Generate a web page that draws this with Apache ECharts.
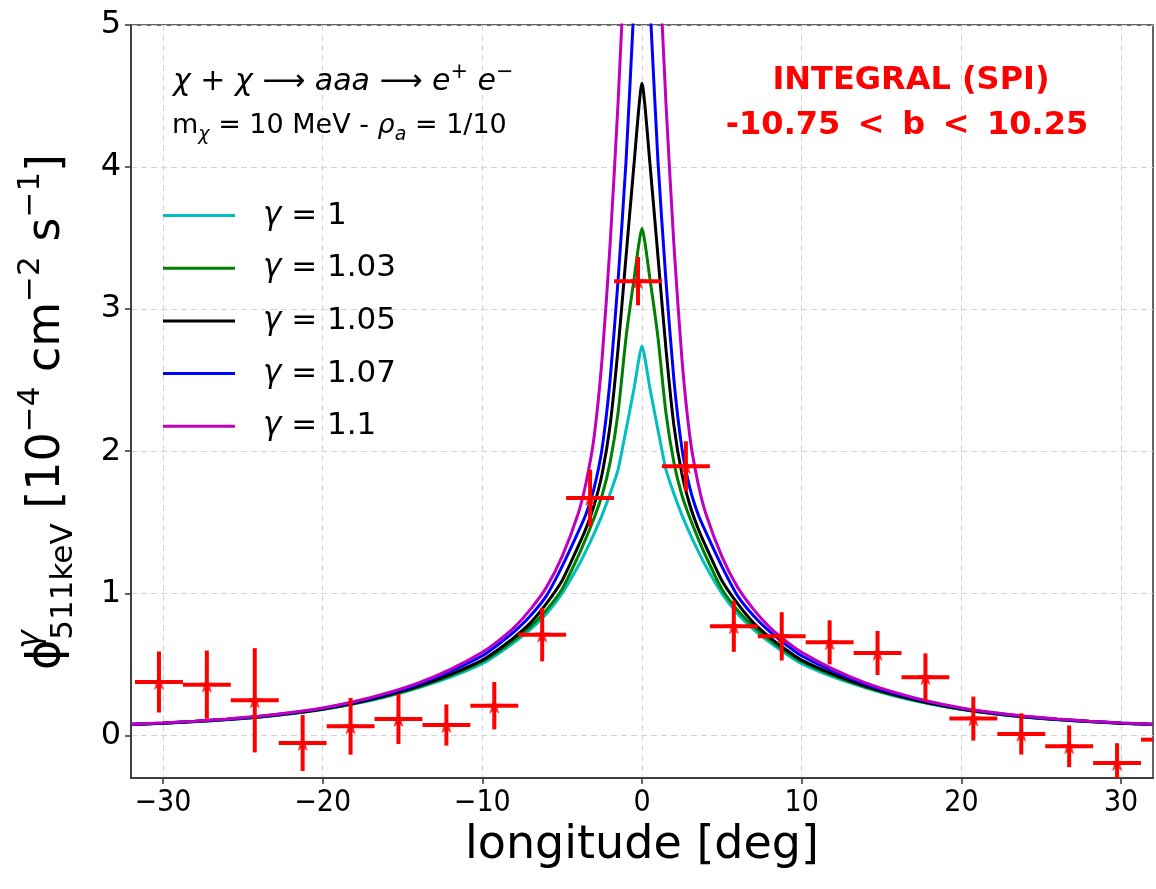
<!DOCTYPE html>
<html><head><meta charset="utf-8">
<script src="https://cdn.jsdelivr.net/npm/echarts@6/dist/echarts.min.js"></script>
<style>html,body{margin:0;padding:0;background:#fff}#c{width:1156px;height:889px}</style>
</head><body><div id="c"></div>
<script>
// ---- data ----
const curveLon = [0,0.5,1,1.5,2,2.5,3,3.5,4,5,6,7,8,9,10,12,14,16,18,20,22,24,26,28,30,32];
const fluxG100 = [2.74,2.44,2.15,1.87,1.70,1.55,1.42,1.30,1.19,1.00,0.855,0.745,0.655,0.575,0.505,0.41,0.335,0.272,0.222,0.182,0.152,0.128,0.110,0.096,0.085,0.076];
const fluxG103 = [3.57,3.21,2.80,2.27,1.92,1.69,1.53,1.39,1.26,1.03,0.88,0.765,0.672,0.59,0.52,0.42,0.34,0.276,0.225,0.184,0.153,0.129,0.111,0.097,0.086,0.076];
const fluxG105 = [4.59,4.02,3.37,2.72,2.18,1.84,1.62,1.46,1.33,1.09,0.925,0.79,0.69,0.605,0.53,0.43,0.347,0.281,0.228,0.186,0.155,0.130,0.112,0.098,0.086,0.077];
const fluxG107 = [6.30,5.15,4.04,3.20,2.50,2.02,1.74,1.56,1.43,1.19,0.98,0.84,0.73,0.64,0.56,0.45,0.36,0.29,0.234,0.19,0.158,0.133,0.114,0.099,0.087,0.078];
const fluxG110 = [8.50,6.90,5.65,4.45,3.45,2.65,2.10,1.78,1.56,1.26,1.04,0.885,0.76,0.665,0.585,0.465,0.37,0.297,0.238,0.193,0.161,0.135,0.116,0.100,0.088,0.079];
const curveNames = ['γ = 1','γ = 1.03','γ = 1.05','γ = 1.07','γ = 1.1'];
const curveColors = ['#00bfbf','#008000','#000000','#0000ff','#bf00bf'];

const dataLon = [-30.25,-27.25,-24.25,-21.25,-18.25,-15.25,-12.25,-9.25,-6.25,-3.25,-0.25,2.75,5.75,8.75,11.75,14.75,17.75,20.75,23.75,26.75,29.75,32.75];
const dataFlux = [0.376,0.357,0.247,-0.054,0.064,0.115,0.073,0.209,0.709,1.67,3.197,1.894,0.768,0.697,0.655,0.58,0.41,0.118,0.01,-0.077,-0.195,-0.03];
const dataLonErr = [1.5,1.5,1.5,1.5,1.5,1.5,1.5,1.5,1.5,1.5,1.5,1.5,1.5,1.5,1.5,1.5,1.5,1.5,1.5,1.5,1.5,1.5];
const dataFluxErr = [0.215,0.24,0.367,0.197,0.2,0.176,0.145,0.167,0.188,0.2,0.17,0.176,0.18,0.17,0.155,0.155,0.167,0.155,0.145,0.147,0.14,0.15];

const xTicks = [-30,-20,-10,0,10,20,30];
const yTicks = [0,1,2,3,4,5];

// ---- build ----
function sym(profile){
  const pts = [];
  for (let i = curveLon.length - 1; i >= 0; i--) pts.push([-curveLon[i], profile[i]]);
  for (let i = 0; i < curveLon.length; i++) pts.push([curveLon[i], profile[i]]);
  return pts;
}
const profiles = [fluxG100, fluxG103, fluxG105, fluxG107, fluxG110];
const FONT = 'DejaVu Sans';
const chart = echarts.init(document.getElementById('c'), null, {renderer:'canvas'});

const lineSeries = profiles.map((p, i) => ({
  name: curveNames[i], type: 'line', data: sym(p), showSymbol: false,
  smooth: 0.2, color: curveColors[i],
  lineStyle: {width: 3, color: curveColors[i]}, z: 3 + i, silent: true
}));

const star = 'path://M0,-10 L2.35,-3.24 L9.51,-3.09 L3.8,1.24 L5.88,8.09 L0,4 L-5.88,8.09 L-3.8,1.24 L-9.51,-3.09 L-2.35,-3.24 Z';

const errSeries = {
  type: 'custom', z: 20, silent: true,
  data: dataLon.map((x, i) => [x, dataFlux[i], dataLonErr[i], dataFluxErr[i]]),
  encode: {x: 0, y: 1},
  renderItem: function(params, api){
    const x = api.value(0), y = api.value(1), xe = api.value(2), ye = api.value(3);
    const cs = params.coordSys;
    const x0 = cs.x, x1 = cs.x + cs.width, y0 = cs.y, y1 = cs.y + cs.height;
    const pL = api.coord([x - xe, y]), pR = api.coord([x + xe, y]);
    const pT = api.coord([x, y + ye]), pB = api.coord([x, y - ye]);
    const st = {stroke: '#ff0000', lineWidth: 4};
    const ch = [];
    if (pR[0] > x0 && pL[0] < x1 && pL[1] >= y0 && pL[1] <= y1) {
      ch.push({type:'line', shape:{x1: Math.max(x0, pL[0]), y1: pL[1], x2: Math.min(x1, pR[0]), y2: pR[1]}, style: st});
    }
    if (pT[0] >= x0 && pT[0] <= x1) {
      ch.push({type:'line', shape:{x1: pT[0], y1: Math.max(y0, pT[1]), x2: pB[0], y2: Math.min(y1, pB[1])}, style: st});
    }
    return {type:'group', children: ch};
  }
};

const starSeries = {
  type: 'scatter', z: 21, silent: true, symbol: star, symbolSize: 16,
  itemStyle: {color: '#ff0000'},
  data: dataLon.map((x, i) => [x, dataFlux[i]])
};

const axisCol = '#333';
const option = {
  animation: false,
  backgroundColor: '#fff',
  grid: {left: 131, right: 3, top: 25, bottom: 111, show: true, borderColor: axisCol, borderWidth: 1.5, backgroundColor: 'transparent'},
  xAxis: {
    type: 'value', min: -32, max: 32,
    name: 'longitude [deg]', nameLocation: 'middle', nameGap: 35,
    nameTextStyle: {fontFamily: FONT, fontSize: 46, color: '#000'},
    axisLine: {show: true, onZero: false, lineStyle: {color: axisCol, width: 1.5}},
    axisTick: {show: true, inside: false, length: 6, lineStyle: {color: axisCol, width: 1.5}, customValues: xTicks},
    axisLabel: {fontFamily: "'DejaVu Sans Condensed', 'Liberation Sans Narrow', 'DejaVu Sans'", fontSize: 30, color: '#000', margin: 10,
      customValues: xTicks, formatter: v => (v < 0 ? '\u2212' + Math.abs(v) : String(v))},
    splitLine: {show: true, lineStyle: {color: '#d3d3d3', width: 1, type: [6, 4]}}
  },
  yAxis: {
    type: 'value', min: -0.3, max: 5,
    axisLine: {show: true, onZero: false, lineStyle: {color: axisCol, width: 1.5}},
    axisTick: {show: true, inside: false, length: 6, lineStyle: {color: axisCol, width: 1.5}, customValues: yTicks},
    axisLabel: {fontFamily: FONT, fontSize: 32, color: '#000', margin: 10, customValues: yTicks},
    splitLine: {show: true, lineStyle: {color: '#d3d3d3', width: 1, type: [6, 4]}}
  },
  legend: {
    orient: 'vertical', left: 163, top: 200, padding: 0,
    itemWidth: 72, itemHeight: 3, itemGap: 21.7, icon: 'rect',
    data: curveNames,
    formatter: n => n.replace('γ', '{g|γ}'),
    textStyle: {fontFamily: FONT, fontSize: 31, color: '#000', lineHeight: 30, padding: [0,0,0,23],
      rich: {g: {fontFamily: FONT, fontStyle: 'italic', fontSize: 31, lineHeight: 30, color: '#000'}}}
  },
  graphic: [
    {type: 'text', left: 173, top: 62, z: 50, style: {
      text: '{i|χ} + {i|χ} ⟶ {i|aaa} ⟶ {i|e}{sp|+}{i| e}{sp|−}',
      fontFamily: FONT, fontSize: 30, fill: '#000', lineHeight: 40,
      rich: {
        i: {fontFamily: FONT, fontStyle: 'italic', fontSize: 30, lineHeight: 40},
        sp: {fontFamily: FONT, fontSize: 21, lineHeight: 21, verticalAlign: 'top'}
      }}},
    {type: 'text', left: 172, top: 107, z: 50, style: {
      text: 'm{sb|χ} = 10 MeV - {i|ρ}{sb|a} = 1/10',
      fontFamily: FONT, fontSize: 27, fill: '#000', lineHeight: 38,
      rich: {
        i: {fontFamily: FONT, fontStyle: 'italic', fontSize: 27, lineHeight: 38},
        sb: {fontFamily: FONT, fontStyle: 'italic', fontSize: 19, lineHeight: 19, verticalAlign: 'bottom'}
      }}},
    {type: 'text', x: 911, y: 81, z: 50, style: {
      text: 'INTEGRAL (SPI)', fontFamily: FONT, fontWeight: 'bold', fontSize: 32, fill: '#ff0000', align: 'center', verticalAlign: 'middle'}},
    {type: 'text', x: 907, y: 126, z: 50, style: {
      text: '-10.75 \u2009<\u2009 b \u2009<\u2009 10.25', fontFamily: FONT, fontWeight: 'bold', fontSize: 32, fill: '#ff0000', align: 'center', verticalAlign: 'middle'}},
    {type: 'text', x: 47, y: 412, rotation: Math.PI / 2, z: 50, style: {
      text: '{b|ϕ}{sp0|γ}{sb|511keV}{b| [10}{sp|−4}{b| cm}{sp|−2}{b| s}{sp|−1}{b|]}',
      fontFamily: FONT, fontSize: 46, fill: '#000', align: 'center', verticalAlign: 'middle',
      rich: {
        b: {fontFamily: FONT, fontSize: 46, lineHeight: 64},
        sp0: {fontFamily: FONT, fontStyle: 'italic', fontSize: 31, lineHeight: 31, verticalAlign: 'top', width: 0},
        sb: {fontFamily: FONT, fontSize: 31, lineHeight: 31, verticalAlign: 'bottom'},
        sp: {fontFamily: FONT, fontSize: 31, lineHeight: 31, verticalAlign: 'top'}
      }}}
  ],
  series: [...lineSeries, errSeries, starSeries]
};
chart.setOption(option);
</script>
</body></html>
